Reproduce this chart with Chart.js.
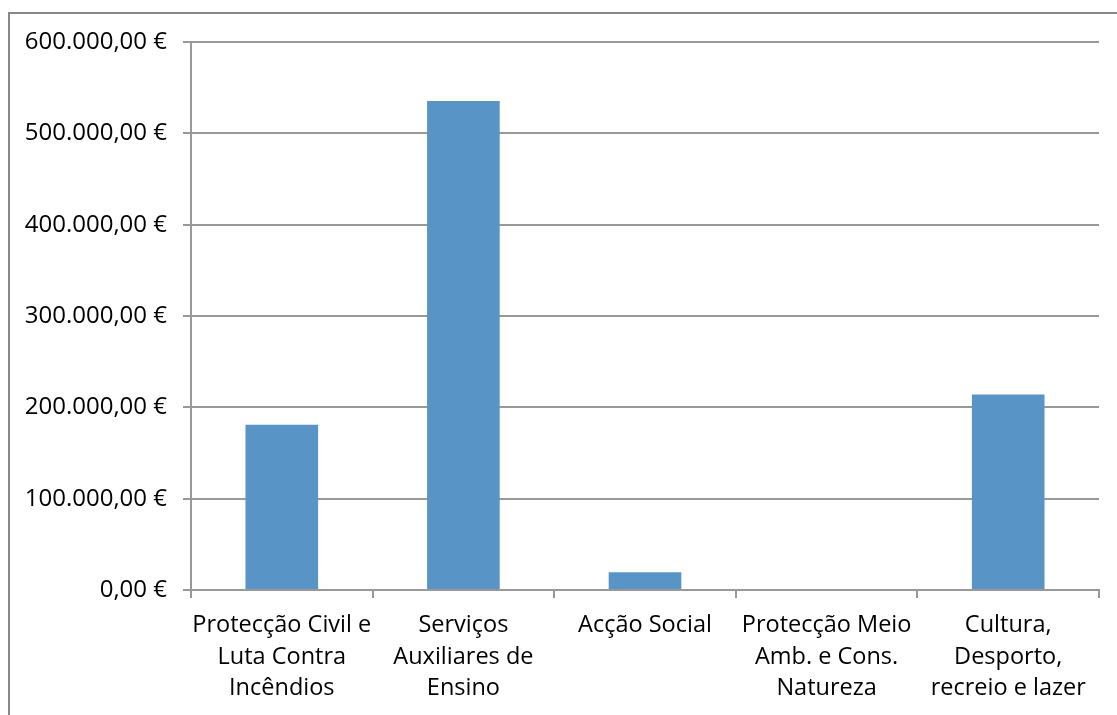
<!DOCTYPE html>
<html>
<head>
<meta charset="utf-8">
<script src="https://cdn.jsdelivr.net/npm/chart.js@4/dist/chart.umd.min.js"></script>
<style>
  html, body { margin: 0; padding: 0; background: #fff; }
  #wrap { width: 1117px; height: 715px; position: relative; }
</style>
</head>
<body>
<div id="wrap"><canvas id="chart"></canvas></div>
<script>
const categories = [
  ["Protecção Civil e", "Luta Contra", "Incêndios"],
  ["Serviços", "Auxiliares de", "Ensino"],
  ["Acção Social"],
  ["Protecção Meio", "Amb. e Cons.", "Natureza"],
  ["Cultura,", "Desporto,", "recreio e lazer"]
];
const values = [181000, 535500, 19300, 0, 214000];
const tickValues = [0, 100000, 200000, 300000, 400000, 500000, 600000];

const fontFamily = "'Open Sans', 'Noto Sans', sans-serif";
const gray = "#999999";

function euro(v) {
  const parts = v.toFixed(2).split(".");
  const int = parts[0].replace(/\B(?=(\d{3})+(?!\d))/g, ".");
  return int + "," + parts[1] + " €";
}

// outer chart frame (left and top edges visible)
const framePlugin = {
  id: "frame",
  beforeDraw(chart) {
    const ctx = chart.ctx;
    ctx.save();
    ctx.strokeStyle = "#888888";
    ctx.lineWidth = 2;
    ctx.beginPath();
    ctx.moveTo(9, chart.height);
    ctx.lineTo(9, 13);
    ctx.lineTo(chart.width, 13);
    ctx.stroke();
    ctx.restore();
  }
};

const ctx = document.getElementById("chart").getContext("2d");
new Chart(ctx, {
  type: "bar",
  data: {
    labels: categories,
    datasets: [{
      data: values,
      backgroundColor: "#5895c6",
      barPercentage: 0.4,
      categoryPercentage: 1
    }]
  },
  options: {
    responsive: true,
    maintainAspectRatio: false,
    animation: false,
    layout: { padding: { top: 42, right: 18, left: 0, bottom: 0 } },
    plugins: {
      legend: { display: false },
      tooltip: { enabled: false }
    },
    scales: {
      x: {
        offset: true,
        grid: {
          offset: true,
          drawOnChartArea: false,
          drawTicks: true,
          tickLength: 8,
          color: gray,
          lineWidth: 2
        },
        border: { color: gray, width: 2 },
        ticks: {
          color: "#000",
          padding: 12,
          maxRotation: 0,
          autoSkip: false,
          font: { family: fontFamily, size: 23.5, lineHeight: 1.34 }
        },
        afterFit(scale) { scale.height = 125; }
      },
      y: {
        min: 0,
        max: 600000,
        afterBuildTicks(scale) {
          scale.ticks = tickValues.map(v => ({ value: v }));
        },
        grid: {
          color: gray,
          lineWidth: 2,
          tickLength: 8
        },
        border: { color: gray, width: 2 },
        ticks: {
          color: "#000",
          padding: 16,
          font: { family: fontFamily, size: 24 },
          callback: v => euro(v)
        },
        afterFit(scale) { scale.width = 191; }
      }
    }
  },
  plugins: [framePlugin]
});
</script>
</body>
</html>
